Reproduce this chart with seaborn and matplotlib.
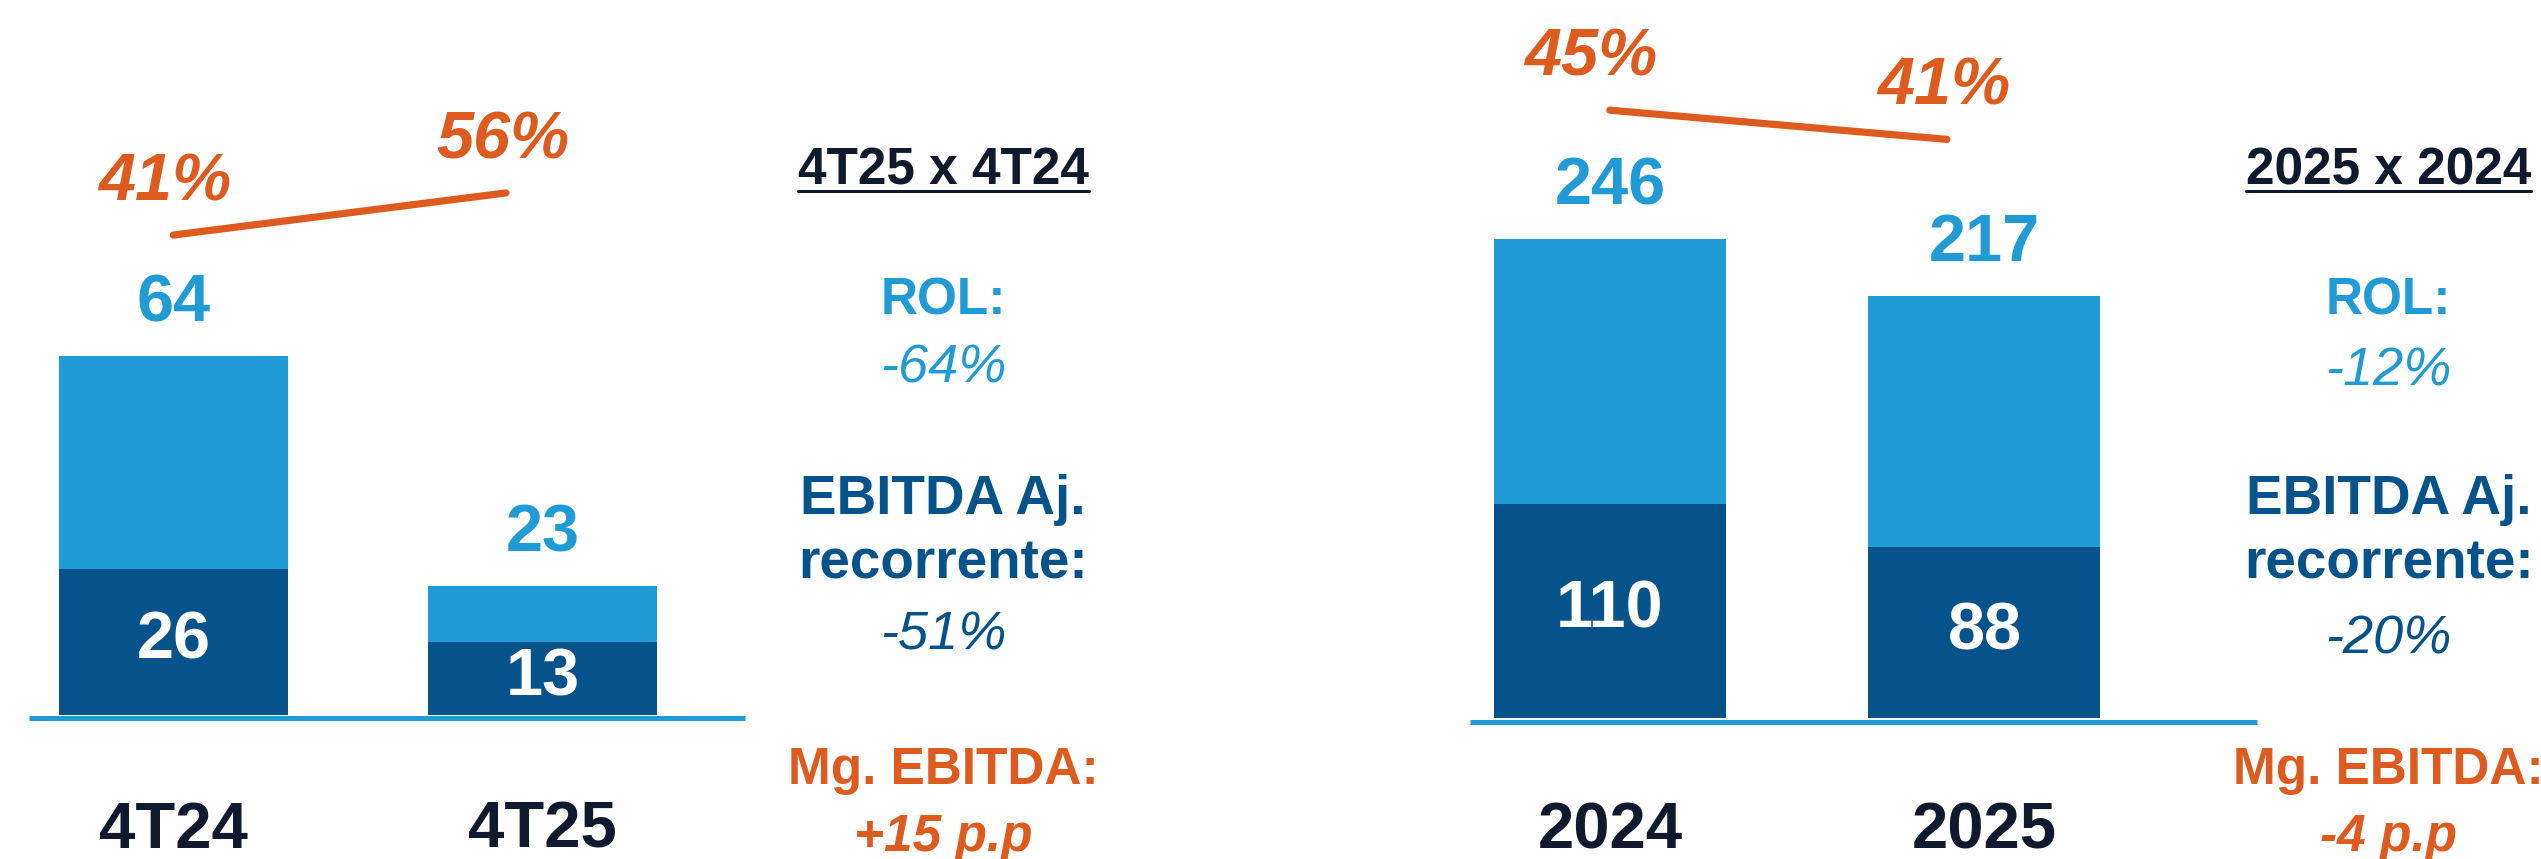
import numpy as np
import pandas as pd
import matplotlib.pyplot as plt
import seaborn as sns
from matplotlib.lines import Line2D
from matplotlib.transforms import offset_copy

# Quarterly panel
Q_CATS = ['4T24', '4T25']
Q_ROL = [64, 23]
Q_EBITDA = [26, 13]
Q_MARGIN = [41, 56]
Q_NOTES = ['4T25 x 4T24', '-64%', '-51%', '+15 p.p']

# Annual panel
Y_CATS = ['2024', '2025']
Y_ROL = [246, 217]
Y_EBITDA = [110, 88]
Y_MARGIN = [45, 41]
Y_NOTES = ['2025 x 2024', '-12%', '-20%', '-4 p.p']

LIGHT = '#209BD6'
DARK = '#06538C'
ORANGE = '#DE5B1F'
NAVY = '#101A2E'

sns.set_style('white')
plt.rcParams['font.family'] = ['Liberation Sans', 'DejaVu Sans']

W, H = 1568, 530  # layout measured on the reduced reference


def draw_panel(fig, rect, cats, rol, ebitda, margin, xlim, ylim, mlim, first_dx, pad):
    ax = fig.add_axes(rect)
    df = pd.DataFrame({'cat': cats, 'rol': rol, 'ebitda': ebitda})
    sns.barplot(data=df, x='cat', y='rol', color=LIGHT, saturation=1, width=0.62,
                linewidth=0, edgecolor='none', ax=ax, zorder=2)
    sns.barplot(data=df, x='cat', y='ebitda', color=DARK, saturation=1, width=0.62,
                linewidth=0, edgecolor='none', ax=ax, zorder=3)
    # base line sits just under the bars
    base_tr = offset_copy(ax.get_yaxis_transform(), fig=fig, y=-2.6, units='points')
    ax.plot([0, 1], [0, 0], color=LIGHT, lw=3.6, transform=base_tr, clip_on=False,
            solid_capstyle='butt', zorder=5)
    ax.set_xlim(*xlim)
    ax.set_ylim(*ylim)
    sns.despine(ax=ax, left=True, bottom=True)
    ax.set_yticks([])
    ax.set_xlabel('')
    ax.set_ylabel('')
    ax.tick_params(axis='x', length=0, pad=pad)
    for lab in ax.get_xticklabels():
        lab.set_fontsize(47)
        lab.set_fontweight('bold')
        lab.set_color(NAVY)

    for i in range(len(cats)):
        ax.annotate(f'{rol[i]}', (i, rol[i]), xytext=(0, 37), textcoords='offset points',
                    ha='center', va='center', fontsize=48, fontweight='bold', color=LIGHT)
        ax.text(i, ebitda[i] / 2, f'{ebitda[i]}', ha='center', va='center',
                fontsize=48, fontweight='bold', color='white', zorder=4)

    # EBITDA margin line on its own scale
    mx = ax.twinx()
    mx.set_ylim(*mlim)
    mx.set_yticks([])
    sns.despine(ax=mx, left=True, bottom=True, right=True)
    xs = np.arange(len(cats)) * 0.9
    sns.lineplot(x=xs, y=margin, color=ORANGE, lw=5.2, ax=mx)
    offs = [first_dx, -2]
    for i in range(len(cats)):
        mx.annotate(f'{margin[i]}%', (xs[i], margin[i]), xytext=(offs[i], 37), textcoords='offset points',
                    ha='center', va='center', fontsize=48, fontweight='bold', style='italic',
                    color=ORANGE, annotation_clip=False)
    return ax


def draw_notes(fig, xc, notes, pct1_y, pct2_y):
    rows = [
        (notes[0], 114, NAVY, 'bold', 'normal', 37),
        ('ROL:', 194, LIGHT, 'bold', 'normal', 37),
        (notes[1], pct1_y, LIGHT, 'normal', 'italic', 39),
        ('EBITDA Aj.', 317, DARK, 'bold', 'normal', 39.5),
        ('recorrente:', 357, DARK, 'bold', 'normal', 39.5),
        (notes[2], pct2_y, DARK, 'normal', 'italic', 39),
        ('Mg. EBITDA:', 484, ORANGE, 'bold', 'normal', 37),
        (notes[3], 525, ORANGE, 'bold', 'italic', 37),
    ]
    texts = []
    for txt, yb, col, wt, st, fs in rows:
        t = fig.text(xc / W, 1 - yb / H, txt, ha='center', va='baseline', fontsize=fs,
                     fontweight=wt, style=st, color=col)
        texts.append(t)
    return texts[0]


fig = plt.figure(figsize=(25.41, 8.59), dpi=100)

draw_panel(fig, [18 / W, 1 - 441 / H, 442 / W, 441 / H], Q_CATS, Q_ROL, Q_EBITDA, Q_MARGIN,
           (-0.39, 1.548), (0, 127.5), (-129.8, 124.7), -6, 62)
draw_panel(fig, [907 / W, 1 - 443 / H, 486 / W, 443 / H], Y_CATS, Y_ROL, Y_EBITDA, Y_MARGIN,
           (-0.374, 1.729), (0, 369), (-38.3, 60.1), -14, 60)

headers = [draw_notes(fig, 582, Q_NOTES, 236, 401), draw_notes(fig, 1474, Y_NOTES, 238, 403)]

# underline the comparison headers
fig.canvas.draw()
renderer = fig.canvas.get_renderer()
fw, fh = fig.bbox.width, fig.bbox.height
for t in headers:
    bb = t.get_window_extent(renderer)
    y = 1 - 118 / H
    fig.add_artist(Line2D([bb.x0 / fw, bb.x1 / fw], [y, y], color=NAVY, lw=2.2))

fig.savefig('out.png', dpi=100)
